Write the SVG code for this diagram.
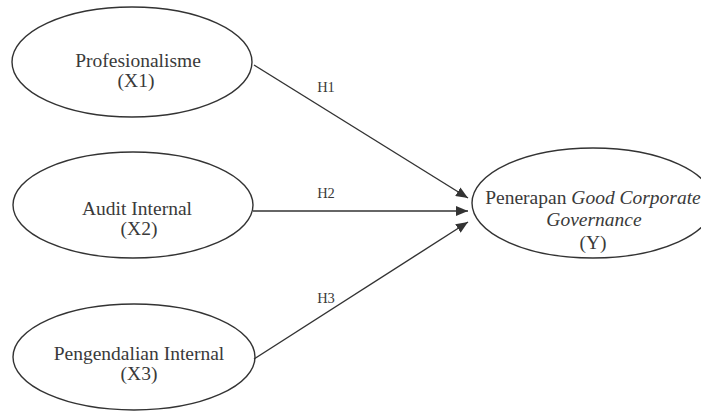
<svg xmlns="http://www.w3.org/2000/svg" width="701" height="411" viewBox="0 0 701 411">
<style>
.node ellipse{fill:#fff;stroke:#333;stroke-width:1.4}
text{font-family:"Liberation Serif","Times New Roman",serif;font-size:19.5px;fill:#3a3a3a;text-anchor:middle}
.lbl{font-size:14.5px}
.conn line{stroke:#333;stroke-width:1.4}
</style>
<defs>
<marker id="ah" viewBox="0 0 12 10" refX="12" refY="5" markerWidth="12" markerHeight="10" markerUnits="userSpaceOnUse" orient="auto">
<path d="M0,0 L12,5 L0,10 z" fill="#333"/>
</marker>
</defs>
<rect width="701" height="411" fill="#fff"/>
<g id="n1" class="node">
<ellipse cx="132" cy="62" rx="120" ry="55"/>
<text x="138" y="67">Profesionalisme</text>
<text x="136" y="87">(X1)</text>
</g>
<g id="n2" class="node">
<ellipse cx="133" cy="205" rx="120" ry="53"/>
<text x="137" y="215">Audit Internal</text>
<text x="139" y="235">(X2)</text>
</g>
<g id="n3" class="node">
<ellipse cx="134" cy="357" rx="121" ry="53"/>
<text x="139" y="360">Pengendalian Internal</text>
<text x="139" y="380">(X3)</text>
</g>
<g id="y" class="node">
<ellipse cx="593" cy="203" rx="121" ry="55"/>
<text x="593" y="204">Penerapan <tspan font-style="italic">Good Corporate</tspan></text>
<text x="594" y="226" font-style="italic">Governance</text>
<text x="593" y="249">(Y)</text>
</g>
<g id="connectors" class="conn">
<line x1="254" y1="65" x2="468" y2="198" marker-end="url(#ah)"/>
<line x1="253" y1="211" x2="468" y2="211" marker-end="url(#ah)"/>
<line x1="254" y1="359" x2="468" y2="222" marker-end="url(#ah)"/>
<text class="lbl" x="326" y="92">H1</text>
<text class="lbl" x="326" y="198">H2</text>
<text class="lbl" x="326" y="303">H3</text>
</g>
</svg>
